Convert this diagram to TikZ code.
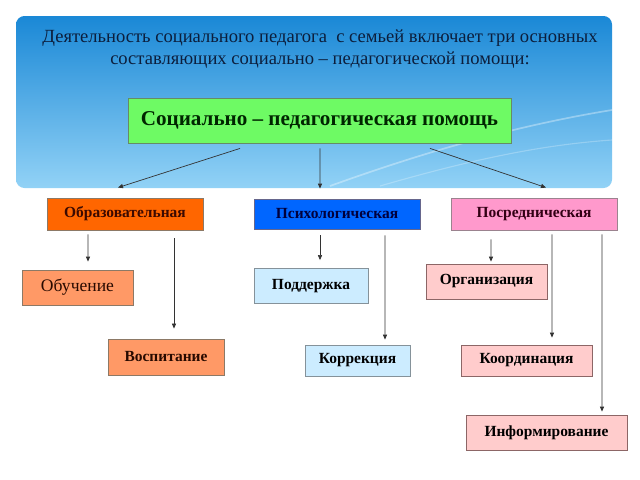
\documentclass[tikz,border=0pt]{standalone}
\usepackage{fontspec}
\setmainfont{Liberation Serif}
\usetikzlibrary{arrows.meta,calc}
\usepackage{xcolor}
\definecolor{skytop}{HTML}{1A88D6}
\definecolor{skybot}{HTML}{92D2F6}
\definecolor{titleink}{HTML}{0C1E3C}
\definecolor{linegray}{HTML}{333333}

\begin{document}
\begin{tikzpicture}[x=0.025cm,y=-0.025cm,>={Triangle[length=3.6pt,width=3pt]},
  box/.style={draw=#1!25!black!60,line width=0.6pt,font=\bfseries\fontsize{11}{12}\selectfont,inner sep=0pt},
  arr/.style={->,draw=linegray,line width=0.5pt}]
\useasboundingbox (0,0) rectangle (640,480);
% banner
\shade[top color=skytop,bottom color=skybot,rounded corners=6] (16,16) rectangle (612,188);
\draw[white,opacity=0.35,line width=1.2pt] (330,186) .. controls (430,150) and (520,125) .. (612,110);
\draw[white,opacity=0.25,line width=0.8pt] (380,186) .. controls (470,160) and (540,145) .. (612,140);
\node[text=titleink,align=center,font=\fontsize{13.2}{15.6}\selectfont] (title) at (320,49)
  {Деятельность социального педагога\ \ с семьей включает три основных\\ составляющих социально -- педагогической помощи:};
% top box
\node[box=green,fill={rgb,255:red,110;green,250;blue,100},minimum width=383*0.025cm,minimum height=45*0.025cm,
  font=\bfseries\fontsize{15}{17}\selectfont,text=black!85!green] (help) at (319.5,120.5) {Социально -- педагогическая помощь};
% second row
\node[box=orange,fill={rgb,255:red,255;green,102;blue,0},minimum width=156*0.025cm,minimum height=32*0.025cm,text={rgb,255:red,60;green,10;blue,0}] (edu) at (125,214) {Образовательная\hspace{11pt}};
\node[box=blue,fill={rgb,255:red,0;green,102;blue,255},minimum width=166*0.025cm,minimum height=30*0.025cm,text={rgb,255:red,0;green,0;blue,60}] (psy) at (337,214) {Психологическая};
\node[box=magenta,fill={rgb,255:red,255;green,153;blue,204},minimum width=166*0.025cm,minimum height=32*0.025cm,text={rgb,255:red,50;green,0;blue,20}] (mid) at (534,214) {Посредническая};
% third row
\node[box=orange,fill={rgb,255:red,255;green,153;blue,102},minimum width=111*0.025cm,minimum height=35*0.025cm,font=\fontsize{12.5}{13}\selectfont,text={rgb,255:red,40;green,10;blue,0}] (teach) at (77.5,287.5) {Обучение};
\node[box=orange,fill={rgb,255:red,255;green,153;blue,102},minimum width=116*0.025cm,minimum height=36*0.025cm,text={rgb,255:red,40;green,10;blue,0}] (raise) at (166,357) {Воспитание};
\node[box=cyan,fill={rgb,255:red,204;green,236;blue,255},minimum width=114*0.025cm,minimum height=35*0.025cm,text=black] (support) at (311,286) {Поддержка};
\node[box=cyan,fill={rgb,255:red,204;green,236;blue,255},minimum width=105*0.025cm,minimum height=31*0.025cm,text=black] (correct) at (357.5,360.5) {Коррекция};
\node[box=red,fill={rgb,255:red,255;green,204;blue,204},minimum width=121*0.025cm,minimum height=35*0.025cm,text=black] (organize) at (486.5,281.5) {Организация};
\node[box=red,fill={rgb,255:red,255;green,204;blue,204},minimum width=131*0.025cm,minimum height=31*0.025cm,text=black] (coord) at (526.5,360.5) {Координация};
\node[box=red,fill={rgb,255:red,255;green,204;blue,204},minimum width=161*0.025cm,minimum height=35*0.025cm,text=black] (inform) at (546.5,432.5) {Информирование};
% arrows
\draw[arr] ($(help.south)+(-79.5,5)$) -- ($(edu.north)+(-7,-10)$);
\draw[arr] ($(help.south)+(0.5,5)$) -- ($(psy.north)+(-17,-10)$);
\draw[arr] ($(help.south)+(110.5,5)$) -- ($(mid.north)+(12,-10)$);
\draw[arr] ($(edu.south)+(-37,4)$) -- ($(teach.north)+(10.5,-8)$);
\draw[arr] ($(edu.south)+(49,8)$) -- ($(raise.north)+(8,-10)$);
\draw[arr] ($(psy.south)+(-17,6)$) -- ($(support.north)+(9,-8)$);
\draw[arr] ($(psy.south)+(48,6)$) -- ($(correct.north)+(27.5,-5)$);
\draw[arr] ($(mid.south)+(-43,9)$) -- ($(organize.north)+(4.5,-2)$);
\draw[arr] ($(mid.south)+(18,4)$) -- ($(coord.north)+(25.5,-7)$);
\draw[arr] ($(mid.south)+(68,4)$) -- ($(inform.north)+(55.5,-3)$);
\end{tikzpicture}
\end{document}
